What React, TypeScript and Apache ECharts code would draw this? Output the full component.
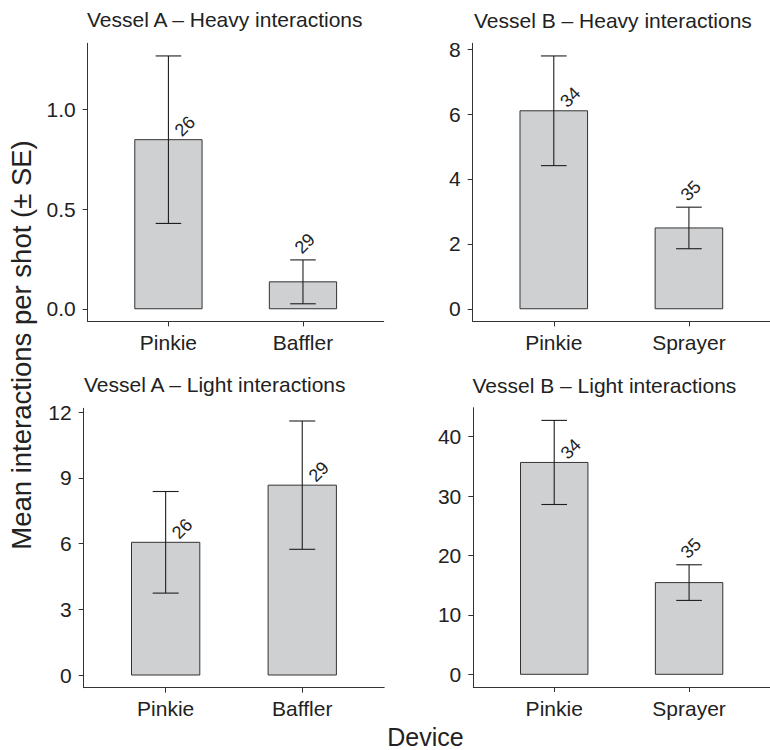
import React, { useEffect, useRef } from "react";
import * as echarts from "echarts";

// ---- Data ----
const panelTitles = [
  "Vessel A – Heavy interactions",
  "Vessel B – Heavy interactions",
  "Vessel A – Light interactions",
  "Vessel B – Light interactions",
];
const vesselADevices = ["Pinkie", "Baffler"];
const vesselBDevices = ["Pinkie", "Sprayer"];

const aHeavyMean = [0.848, 0.135];
const aHeavySE = [0.42, 0.11];
const bHeavyMean = [6.1, 2.49];
const bHeavySE = [1.69, 0.64];
const aLightMean = [6.06, 8.67];
const aLightSE = [2.32, 2.93];
const bLightMean = [35.67, 15.44];
const bLightSE = [7.08, 3.0];

const vesselAN = [26, 29];
const vesselBN = [34, 35];

// label sits beside the bar top (0) or above the error bar (1)
const aHeavyLabelAbove = [0, 1];
const bHeavyLabelAbove = [0, 1];
const aLightLabelAbove = [0, 0];
const bLightLabelAbove = [0, 1];

const aHeavyTicks = [0, 0.5, 1.0];
const bHeavyTicks = [0, 2, 4, 6, 8];
const aLightTicks = [0, 3, 6, 9, 12];
const bLightTicks = [0, 10, 20, 30, 40];

const FONT = "'Liberation Sans', Arial, Helvetica, sans-serif";
const TEXT = "#222222";
const LINE = "#333333";

type Panel = {
  title: string;
  devices: string[];
  mean: number[];
  se: number[];
  n: number[];
  above: number[];
  ticks: number[];
  decimals: number;
  grid: { left: number; top: number; width: number; height: number };
  titlePos: { left: number; top: number };
  xMargin: number;
};

const panels: Panel[] = [
  {
    title: panelTitles[0], devices: vesselADevices, mean: aHeavyMean, se: aHeavySE,
    n: vesselAN, above: aHeavyLabelAbove, ticks: aHeavyTicks, decimals: 1,
    grid: { left: 87.7, top: 43.3, width: 296, height: 278.1 },
    titlePos: { left: 87, top: 9 }, xMargin: 11,
  },
  {
    title: panelTitles[1], devices: vesselBDevices, mean: bHeavyMean, se: bHeavySE,
    n: vesselBN, above: bHeavyLabelAbove, ticks: bHeavyTicks, decimals: 0,
    grid: { left: 472.7, top: 43.3, width: 305.4, height: 278.1 },
    titlePos: { left: 474, top: 10 }, xMargin: 11,
  },
  {
    title: panelTitles[2], devices: vesselADevices, mean: aLightMean, se: aLightSE,
    n: vesselAN, above: aLightLabelAbove, ticks: aLightTicks, decimals: 0,
    grid: { left: 83.7, top: 408.3, width: 300.5, height: 279.4 },
    titlePos: { left: 84, top: 374 }, xMargin: 10.5,
  },
  {
    title: panelTitles[3], devices: vesselBDevices, mean: bLightMean, se: bLightSE,
    n: vesselBN, above: bLightLabelAbove, ticks: bLightTicks, decimals: 0,
    grid: { left: 473.3, top: 407.7, width: 298.5, height: 279.3 },
    titlePos: { left: 472.5, top: 374.5 }, xMargin: 10.5,
  },
];

const BAR_HALF = 0.25;
const WHISKER_HALF = 0.095;

function renderItem(params: any, api: any) {
  const x = api.value(0);
  const mean = api.value(1);
  const se = api.value(2);
  const n = api.value(3);
  const above = api.value(4);
  const tl = api.coord([x - BAR_HALF, mean]);
  const br = api.coord([x + BAR_HALF, 0]);
  const up = api.coord([x, mean + se]);
  const lo = api.coord([x, mean - se]);
  const wl = api.coord([x - WHISKER_HALF, 0])[0];
  const wr = api.coord([x + WHISKER_HALF, 0])[0];
  const c = api.coord([x, mean]);
  const lineStyle = { stroke: "#1e1e1e", lineWidth: 1.1 };
  const lx = above ? c[0] + 1.8 : c[0] + 16.5;
  const ly = above ? up[1] - 16.5 : c[1] - 13.5;
  return {
    type: "group",
    children: [
      {
        type: "rect",
        shape: { x: tl[0], y: tl[1], width: br[0] - tl[0], height: br[1] - tl[1] },
        style: { fill: "#cfd0d2", stroke: LINE, lineWidth: 1 },
      },
      { type: "line", shape: { x1: up[0], y1: up[1], x2: lo[0], y2: lo[1] }, style: lineStyle },
      { type: "line", shape: { x1: wl, y1: up[1], x2: wr, y2: up[1] }, style: lineStyle },
      { type: "line", shape: { x1: wl, y1: lo[1], x2: wr, y2: lo[1] }, style: lineStyle },
      {
        type: "text",
        x: lx,
        y: ly,
        rotation: Math.PI / 4,
        style: {
          text: String(n),
          align: "center",
          verticalAlign: "middle",
          fontSize: 18,
          fontFamily: FONT,
          fill: TEXT,
        },
      },
    ],
  };
}

export default function App() {
  const ref = useRef<HTMLDivElement>(null);

  useEffect(() => {
    document.body.style.margin = "0";
    if (!ref.current) return;
    const chart = echarts.init(ref.current, null, { renderer: "svg" });

    const grids = panels.map((p) => ({ ...p.grid, containLabel: false }));
    const xAxes = panels.map((p, i) => ({
      type: "value",
      gridIndex: i,
      min: 0.4,
      max: 2.6,
      axisLine: { show: true, onZero: false, lineStyle: { color: LINE, width: 1 } },
      axisTick: { show: true, length: 5, customValues: [1, 2], lineStyle: { color: LINE, width: 1 } },
      axisLabel: {
        customValues: [1, 2],
        formatter: (v: number) => p.devices[Math.round(v) - 1] ?? "",
        fontSize: 21,
        fontFamily: FONT,
        color: TEXT,
        margin: p.xMargin,
      },
      splitLine: { show: false },
    }));
    const yAxes = panels.map((p, i) => {
      const top = Math.max(...p.mean.map((m, j) => m + p.se[j]));
      return {
        type: "value",
        gridIndex: i,
        min: -0.05 * top,
        max: 1.05 * top,
        axisLine: { show: true, onZero: false, lineStyle: { color: LINE, width: 1 } },
        axisTick: { show: true, length: 5, customValues: p.ticks, lineStyle: { color: LINE, width: 1 } },
        axisLabel: {
          customValues: p.ticks,
          formatter: (v: number) => v.toFixed(p.decimals),
          fontSize: 21,
          fontFamily: FONT,
          color: TEXT,
          margin: 12,
        },
        splitLine: { show: false },
      };
    });
    const series = panels.map((p, i) => ({
      type: "custom",
      xAxisIndex: i,
      yAxisIndex: i,
      renderItem,
      clip: false,
      encode: { x: 0, y: 1 },
      data: p.mean.map((m, j) => [j + 1, m, p.se[j], p.n[j], p.above[j]]),
    }));
    const titles = panels.map((p) => ({
      text: p.title,
      left: p.titlePos.left,
      top: p.titlePos.top,
      padding: 0,
      textStyle: { fontSize: 21, fontWeight: "normal", fontFamily: FONT, color: TEXT },
    }));

    chart.setOption({
      animation: false,
      backgroundColor: "#ffffff",
      title: titles,
      grid: grids,
      xAxis: xAxes,
      yAxis: yAxes,
      series,
      graphic: [
        {
          type: "text",
          x: 21.5,
          y: 345,
          rotation: Math.PI / 2,
          style: {
            text: "Mean interactions per shot (± SE)",
            align: "center",
            verticalAlign: "middle",
            fontSize: 27.5,
            fontFamily: FONT,
            fill: TEXT,
          },
        },
        {
          type: "text",
          x: 425.5,
          y: 736.5,
          style: {
            text: "Device",
            align: "center",
            verticalAlign: "middle",
            fontSize: 25,
            fontFamily: FONT,
            fill: TEXT,
          },
        },
      ],
    });

    return () => chart.dispose();
  }, []);

  return <div ref={ref} style={{ width: 770, height: 750 }} />;
}
